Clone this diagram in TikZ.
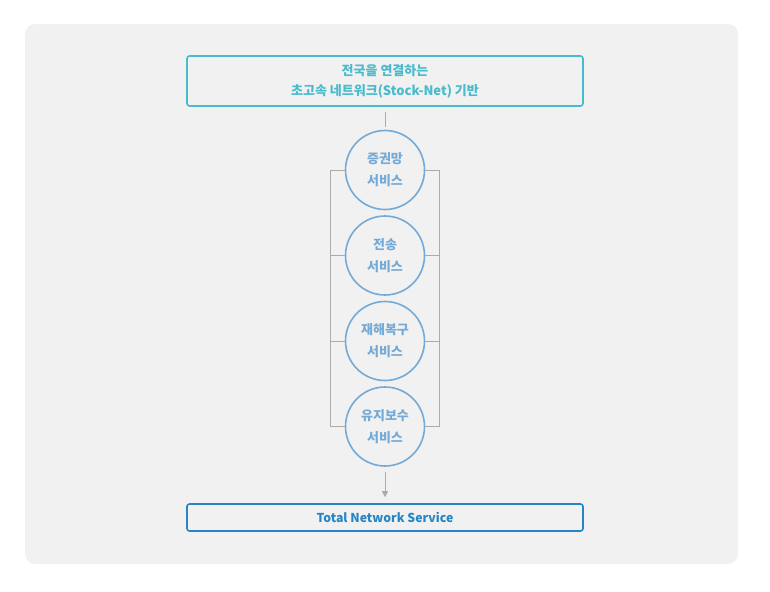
\documentclass[tikz,border=0pt]{standalone}
\usepackage{fontspec}
\usepackage{tikz}
\usetikzlibrary{positioning,calc,arrows.meta}
\setmainfont{Noto Sans CJK KR}
\definecolor{panelGray}{RGB}{241, 241, 241}
\definecolor{baseTeal}{RGB}{72, 187, 204}
\definecolor{svcBlue}{RGB}{118, 170, 214}
\definecolor{totalBlue}{RGB}{38, 134, 196}
\definecolor{linkGray}{RGB}{170, 170, 170}

\begin{document}
\begin{tikzpicture}[
  x=1pt,y=-1pt,
  every node/.style={align=center},
  wide/.style={rounded corners=2.5pt, line width=1.6pt, minimum width=396pt, inner sep=0pt, font=\fontsize{13}{20}\selectfont\bfseries},
  svc/.style={circle, draw=svcBlue, line width=1.6pt, minimum size=79pt, inner sep=0pt, text=svcBlue, font=\fontsize{13}{22}\selectfont\bfseries},
  link/.style={draw=linkGray, line width=.9pt}
]
\fill[panelGray, rounded corners=10pt] (25,24) rectangle (738,564);

\node[wide, draw=baseTeal, text=baseTeal, minimum height=50pt] (base) at (385,81)
  {전국을 연결하는\\초고속 네트워크(Stock-Net) 기반};

\node[svc] (c1) at (385,170) {증권망\\서비스};
\node[svc] (c2) at (385,255.5) {전송\\서비스};
\node[svc] (c3) at (385,341) {재해복구\\서비스};
\node[svc] (c4) at (385,426.5) {유지보수\\서비스};

\node[wide, draw=totalBlue, text=totalBlue, minimum height=27pt, font=\fontsize{12.3}{16}\selectfont\bfseries] (total) at (385,517.5)
  {Total Network Service};

\draw[link, shorten <=5pt, shorten >=3pt] (base) -- (c1);
\draw[link] (c1.west) -- ++(-14,0) |- (c4.west);
\draw[link] (c1.east) -- ++(14,0) |- (c4.east);
\draw[link] (c2.west) -- ++(-14,0);
\draw[link] (c3.west) -- ++(-14,0);
\draw[link] (c2.east) -- ++(14,0);
\draw[link] (c3.east) -- ++(14,0);
\draw[link, -{Triangle[length=6pt,width=6pt]}, shorten <=5pt, shorten >=6pt] (c4) -- (total);

\path[use as bounding box] (0,0) rectangle (770,591);
\end{tikzpicture}
\end{document}
